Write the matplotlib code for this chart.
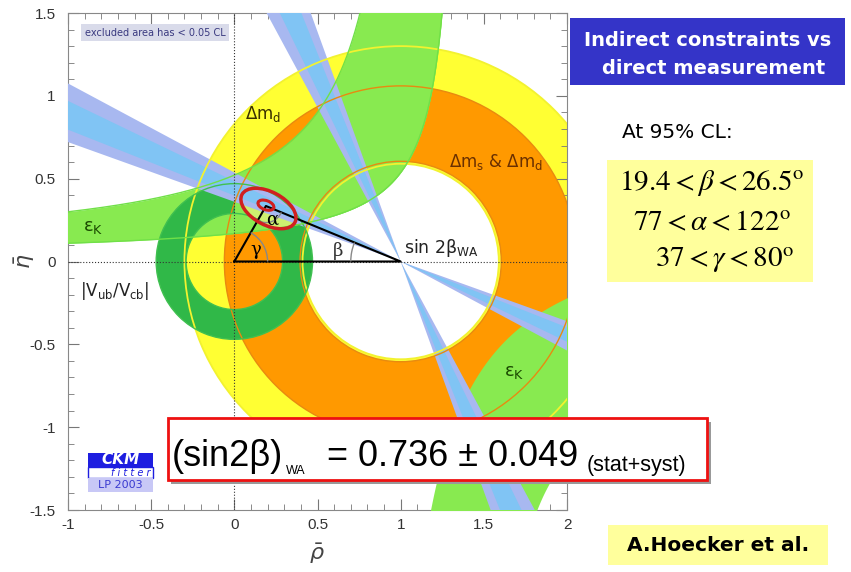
import numpy as np
import matplotlib
matplotlib.use('Agg')
import matplotlib.pyplot as plt
from matplotlib.patches import Wedge, Ellipse, Arc, Rectangle

# constraint shapes in the (rho-bar, eta-bar) plane
dmd_center = (1.0, 0.0)
dmd_radii = [0.59, 1.30]        # yellow ring, Delta m_d
dms_radii = [0.605, 1.06]       # orange ring, Delta m_s & Delta m_d
vub_radii = [0.29, 0.47]        # dark green ring around the origin, |Vub/Vcb|
# eps_K hyperbolae: eta = a / (b - rho) + c
epsk_upper = [0.523, 1.117, 0.053]
epsk_lower = [0.193, 1.38, 0.029]
epsk_br_inner = [0.65, 0.825, 0.334]
epsk_br_outer = [0.35, 1.45, -0.55]

sin2b_wa = 0.736
sin2b_err = 0.049

apex = (0.19, 0.335)
fit_big = [0.205, 0.32, 0.36, 0.20, -28]     # x, y, width, height, angle
fit_small = [0.19, 0.34, 0.10, 0.055, -20]

xticks = [-1, -0.5, 0, 0.5, 1, 1.5, 2]
yticks = [-1.5, -1, -0.5, 0, 0.5, 1, 1.5]

c_yellow = '#ffff33'
c_orange = '#ff9900'
c_lgreen = '#88ea50'
c_dgreen = '#30b848'
c_blue2 = '#a8b8f0'
c_blue1 = '#80c4f4'


def hyper(p, rho):
    a, b, c = p
    with np.errstate(divide='ignore'):
        return a / (b - rho) + c


fig = plt.figure(figsize=(8.51, 5.72), dpi=100)
ax = fig.add_axes([68 / 851, 62 / 572, 499 / 851, 497 / 572])
ax.set_xlim(-1, 2)
ax.set_ylim(-1.5, 1.5)

# Delta m_d and Delta m_s rings
ax.add_patch(Wedge(dmd_center, dmd_radii[1], 0, 360, width=dmd_radii[1] - dmd_radii[0],
                   facecolor=c_yellow, edgecolor='none', zorder=1))
ax.add_patch(Wedge(dmd_center, dms_radii[1], 0, 360, width=dms_radii[1] - dms_radii[0],
                   facecolor=c_orange, edgecolor='none', zorder=2))

# eps_K bands
rho = np.linspace(-1.05, 2.05, 1500)
m = rho < epsk_lower[1]
lo = np.clip(hyper(epsk_lower, rho[m]), -2, 2)
hi = np.where(rho[m] < epsk_upper[1], hyper(epsk_upper, rho[m]), 2)
hi = np.clip(hi, -2, 2)
ax.fill_between(rho[m], lo, hi, color=c_lgreen, lw=0, zorder=3)

m2 = rho > epsk_br_inner[1] + 0.05
up2 = np.clip(hyper(epsk_br_inner, rho[m2]), -2, 2)
lo2 = np.where(rho[m2] > epsk_br_outer[1], hyper(epsk_br_outer, rho[m2]), -2)
lo2 = np.clip(lo2, -2, 2)
ax.fill_between(rho[m2], lo2, up2, color=c_lgreen, lw=0, zorder=3)

# |Vub/Vcb| ring
ax.add_patch(Wedge((0, 0), vub_radii[1], 0, 360, width=vub_radii[1] - vub_radii[0],
                   facecolor=c_dgreen, edgecolor='none', zorder=4))
pos = rho[m] >= 0
ax.fill_between(rho[m][pos], lo[pos], hi[pos], color=c_lgreen, lw=0, zorder=5)

# global fit region
ax.add_patch(Ellipse(fit_big[:2], fit_big[2], fit_big[3], angle=fit_big[4],
                     facecolor='#cdef70', edgecolor='none', zorder=6))

# sin 2beta bands (four-fold ambiguity -> two lines through (1,0))
for nsig, col, z in [(2, c_blue2, 7), (1, c_blue1, 8)]:
    b_lo = 0.5 * np.degrees(np.arcsin(sin2b_wa - nsig * sin2b_err))
    b_hi = 0.5 * np.degrees(np.arcsin(sin2b_wa + nsig * sin2b_err))
    for t1, t2 in [(180 - b_hi, 180 - b_lo), (360 - b_hi, 360 - b_lo),
                   (90 + b_lo, 90 + b_hi), (270 + b_lo, 270 + b_hi)]:
        ax.add_patch(Wedge((1, 0), 4, t1, t2, facecolor=col, edgecolor='none', zorder=z))

# contour lines on top
for r in dmd_radii:
    ax.add_patch(Arc(dmd_center, 2 * r, 2 * r, color='#f2f230', lw=1.3, zorder=9))
for r in dms_radii:
    ax.add_patch(Arc(dmd_center, 2 * r, 2 * r, color='#e88a10', lw=1.0, zorder=9))
for r in vub_radii:
    ax.add_patch(Arc((0, 0), 2 * r, 2 * r, color='#40c050', lw=1.0, zorder=9))
ax.plot(rho[m], np.clip(hyper(epsk_lower, rho[m]), -2, 2), color='#70e048', lw=1, zorder=9)
mu = rho < epsk_upper[1]
ax.plot(rho[mu], np.clip(hyper(epsk_upper, rho[mu]), -2, 2), color='#70e048', lw=1, zorder=9)

# axes lines and unitarity triangle
ax.axhline(0, color='#333333', lw=0.8, ls=':', zorder=10)
ax.axvline(0, color='#333333', lw=0.8, ls=':', zorder=10)
ax.plot([0, 1, apex[0], 0], [0, 0, apex[1], 0], color='black', lw=1.5, zorder=11)
gam = np.degrees(np.arctan2(apex[1], apex[0]))
bet = np.degrees(np.arctan2(apex[1], 1 - apex[0]))
ax.add_patch(Arc((0, 0), 0.4, 0.4, theta1=0, theta2=gam, color='#888888', lw=1, zorder=11))
ax.add_patch(Arc((1, 0), 0.6, 0.6, theta1=180 - bet, theta2=180, color='#888888', lw=1, zorder=11))
ax.add_patch(Arc(apex, 0.2, 0.2, theta1=180 + gam, theta2=360 - bet, color='#888888', lw=1, zorder=11))

ax.add_patch(Ellipse(fit_big[:2], fit_big[2], fit_big[3], angle=fit_big[4],
                     facecolor='none', edgecolor='#d02020', lw=2.5, zorder=12))
ax.add_patch(Ellipse(fit_small[:2], fit_small[2], fit_small[3], angle=fit_small[4],
                     facecolor='none', edgecolor='#d02020', lw=2.2, zorder=12))

# labels inside the plot
ax.text(0.126, 0.072, 'γ', fontsize=13, family='DejaVu Serif', ha='center', va='center', zorder=13)
ax.text(0.228, 0.253, 'α', fontsize=13, family='DejaVu Serif', ha='center', va='center', zorder=13)
ax.text(0.625, 0.065, 'β', fontsize=13, family='DejaVu Serif', ha='center', va='center',
        color='#333333', zorder=13)
ax.text(1.02, 0.08, r'sin 2β$_{\rm WA}$', fontsize=12.5, ha='left', va='center', color='#222222', zorder=13)
ax.text(0.175, 0.89, r'Δm$_{\rm d}$', fontsize=12, ha='center', va='center', color='#3a3000', zorder=13)
ax.text(1.575, 0.60, r'Δm$_{\rm s}$ & Δm$_{\rm d}$', fontsize=12, ha='center', va='center',
        color='#6a3000', zorder=13)
ax.text(-0.85, 0.21, r'ε$_{\rm K}$', fontsize=13, ha='center', va='center', color='#1a4a00', zorder=13)
ax.text(1.68, -0.67, r'ε$_{\rm K}$', fontsize=13, ha='center', va='center', color='#1a4a00', zorder=13)
ax.text(-0.72, -0.18, r'|V$_{\rm ub}$/V$_{\rm cb}$|', fontsize=12, ha='center', va='center', color='#222222',
        zorder=13)
ax.text(-0.9, 1.38, 'excluded area has < 0.05 CL', fontsize=7, color='#3a3a80', ha='left', va='center',
        zorder=13, bbox=dict(facecolor='#d9dbea', edgecolor='none', pad=2.5))

# CKMfitter logo
ax.add_patch(Rectangle((-0.878, -1.243), 0.39, 0.09, facecolor='#1e1ee0', edgecolor='none', zorder=13))
ax.add_patch(Rectangle((-0.878, -1.304), 0.39, 0.061, facecolor='white', edgecolor='#1e1ee0', lw=1, zorder=13))
ax.add_patch(Rectangle((-0.878, -1.394), 0.39, 0.09, facecolor='#c8c8f6', edgecolor='none', zorder=13))
ax.text(-0.683, -1.198, 'CKM', color='white', fontsize=11, style='italic', weight='bold',
        ha='center', va='center', zorder=14)
ax.text(-0.62, -1.274, 'f i t t e r', color='#1e1ee0', fontsize=7, style='italic',
        ha='center', va='center', zorder=14)
ax.text(-0.683, -1.349, 'LP 2003', color='#3a3ad0', fontsize=8, ha='center', va='center', zorder=14)

# axes styling
ax.set_xticks(xticks)
ax.set_yticks(yticks)
ax.set_xticklabels(['-1', '-0.5', '0', '0.5', '1', '1.5', '2'])
ax.set_yticklabels(['-1.5', '-1', '-0.5', '0', '0.5', '1', '1.5'])
ax.set_xticks(np.arange(-1, 2.01, 0.1), minor=True)
ax.set_yticks(np.arange(-1.5, 1.51, 0.1), minor=True)
ax.tick_params(which='both', direction='in', top=True, right=True, colors='#777777',
               labelcolor='#333333', labelsize=11)
ax.tick_params(which='major', length=8)
ax.tick_params(axis='x', which='major', pad=6)
ax.tick_params(axis='y', which='major', pad=9)
ax.tick_params(which='minor', length=4)
for lab in ax.get_xticklabels() + ax.get_yticklabels():
    lab.set_family('Liberation Sans')
for s in ax.spines.values():
    s.set_color('#888888')
ax.set_xlabel(r'$\bar{\rho}$', fontsize=16, color='#444444')
ax.set_ylabel(r'$\bar{\eta}$', fontsize=16, color='#444444')
ax.xaxis.set_label_coords(0.499, -0.063)
ax.yaxis.set_label_coords(-0.062, 0.5)

# red result box
fig.patches.append(Rectangle((0.2015, 0.1535), 0.634, 0.108, transform=fig.transFigure,
                             facecolor='#999999', edgecolor='none', zorder=20))
fig.patches.append(Rectangle((0.197, 0.1605), 0.634, 0.108, transform=fig.transFigure,
                             facecolor='white', edgecolor='#ee1111', lw=2, zorder=21))
big = dict(fontsize=26, family='Liberation Sans', ha='left', va='baseline', zorder=22)
fig.text(0.202, 0.186, '(sin2β)', **big)
fig.text(0.336, 0.172, 'WA', fontsize=9, family='Liberation Sans', ha='left', va='baseline', zorder=22)
fig.text(0.384, 0.186, '= 0.736 ± 0.049', **big)
fig.text(0.689, 0.177, '(stat+syst)', fontsize=15.5, family='Liberation Sans', ha='left', va='baseline',
         zorder=22)

# right-hand annotations
fig.patches.append(Rectangle((0.6698, 0.8514), 0.3232, 0.1171, transform=fig.transFigure,
                             facecolor='#3434c8', edgecolor='none', zorder=20))
fig.text(0.831, 0.930, 'Indirect constraints vs', fontsize=14, weight='bold', color='white',
         ha='center', va='center', zorder=22)
fig.text(0.838, 0.881, 'direct measurement', fontsize=14, weight='bold', color='white',
         ha='center', va='center', zorder=22)
fig.text(0.731, 0.7675, 'At 95% CL:', fontsize=14.5, ha='left', va='center', zorder=22)
fig.patches.append(Rectangle((0.7133, 0.507), 0.242, 0.2133, transform=fig.transFigure,
                             facecolor='#ffff9c', edgecolor='none', zorder=20))
fig.text(0.8367, 0.680, r'$19.4 < \beta < 26.5^{\rm o}$', fontsize=21, math_fontfamily='stix',
         ha='center', va='center', zorder=22)
fig.text(0.8367, 0.612, r'$77 < \alpha < 122^{\rm o}$', fontsize=21, math_fontfamily='stix',
         ha='center', va='center', zorder=22)
fig.text(0.851, 0.545, r'$37 < \gamma < 80^{\rm o}$', fontsize=21, math_fontfamily='stix',
         ha='center', va='center', zorder=22)
fig.patches.append(Rectangle((0.7145, 0.0122), 0.2585, 0.07, transform=fig.transFigure,
                             facecolor='#ffff9c', edgecolor='none', zorder=20))
fig.text(0.8437, 0.0472, 'A.Hoecker et al.', fontsize=14.5, weight='bold', ha='center', va='center', zorder=22)

fig.savefig('out.png', dpi=100)
